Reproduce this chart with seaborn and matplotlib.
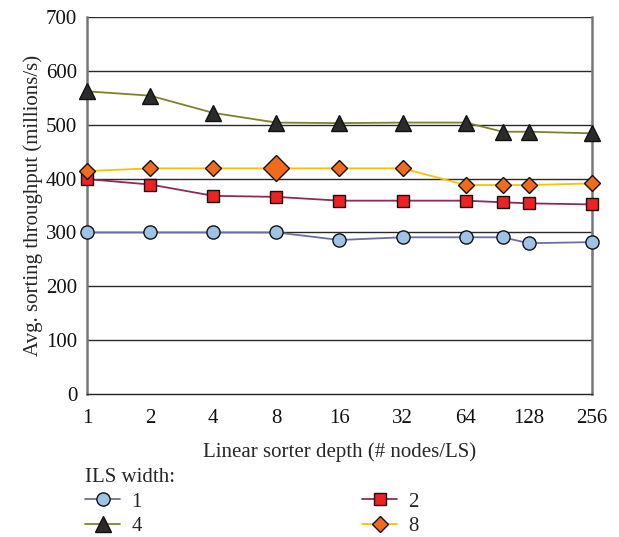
import numpy as np
import pandas as pd
import matplotlib
matplotlib.use("Agg")
import matplotlib.pyplot as plt
import seaborn as sns

# data
depth = [1, 2, 4, 8, 16, 32, 64, 96, 128, 256]
width_1 = [300, 300, 300, 300, 286, 291, 291, 291, 280, 282]
width_2 = [399, 389, 368, 366, 359, 359, 359, 356, 354, 352]
width_4 = [562, 554, 522, 504, 503, 504, 504, 487, 487, 484]
width_8 = [414, 419, 419, 419, 419, 419, 388, 388, 388, 391]
tick_depths = [1, 2, 4, 8, 16, 32, 64, 128, 256]

sns.set_style("white")
plt.rcParams["font.family"] = ["Liberation Serif", "DejaVu Serif"]

fig = plt.figure(figsize=(6.19, 5.37), dpi=100)
ax = fig.add_axes([0.1405, 0.2663, 0.8159, 0.702])

# -----------------------------
# series styles
# -----------------------------
styles = [
    ("1", width_1, "#6a6ea6", "#9dc3e6", "o", 9.5),
    ("2", width_2, "#8e2a5a", "#ee2222", "s", 9.0),
    ("4", width_4, "#80802e", "#2b2b2b", "^", 11.0),
    ("8", width_8, "#ffc000", "#f26b1d", "D", 8.5),
]

handles = {}
for name, vals, lc, fc, mk, ms in styles:
    df = pd.DataFrame({"depth": depth, "tp": vals})
    sns.lineplot(data=df, x="depth", y="tp", ax=ax, color=lc, lw=1.3,
                 marker=mk, markersize=ms, markerfacecolor=fc,
                 markeredgecolor="#111111", markeredgewidth=1.0, zorder=3,
                 clip_on=False)
    handles[name] = plt.Line2D([], [], color=lc, lw=1.3, marker=mk,
                               markersize=ms, markerfacecolor=fc,
                               markeredgecolor="#111111", markeredgewidth=1.0)

# the enlarged diamond at depth 8
ax.plot(depth[3], width_8[3], marker="D", markersize=13, color="#f26b1d",
        markeredgecolor="#111111", markeredgewidth=1.0, zorder=4)

ax.set_xscale("log", base=2)
ax.set_xlim(1, 256)
ax.set_xticks(tick_depths)
ax.set_xticklabels([str(t) for t in tick_depths])
ax.minorticks_off()
ax.set_ylim(0, 700)
ax.set_yticks(range(0, 701, 100))
for yv in range(100, 701, 100):
    ax.axhline(yv, color="#2a2a2a", lw=1.0, zorder=1)

ax.tick_params(axis="both", labelsize=15, length=0, colors="#111111")
ax.tick_params(axis="x", pad=11)
ax.tick_params(axis="y", length=4, pad=3, direction="out", color="#555555")
for side in ["left", "right"]:
    ax.spines[side].set_color("#777777")
    ax.spines[side].set_linewidth(1.8)
ax.spines["bottom"].set_color("#222222")
ax.spines["bottom"].set_linewidth(1.0)
ax.spines["top"].set_visible(False)

ax.set_xlabel("Linear sorter depth (# nodes/LS)", fontsize=15, labelpad=10)
ax.set_ylabel("Avg. sorting throughput (millions/s)", fontsize=15, labelpad=2)

order = ["1", "4", "2", "8"]
leg = fig.legend([handles[k] for k in order], order, title="ILS width:",
                 loc="upper left", bbox_to_anchor=(0.121, 0.147), ncol=2,
                 frameon=False, fontsize=15, title_fontsize=15,
                 handlelength=1.65, handletextpad=0.55, columnspacing=10.6,
                 labelspacing=0.22, borderpad=0, alignment="left")

fig.savefig("out.png", dpi=100)
